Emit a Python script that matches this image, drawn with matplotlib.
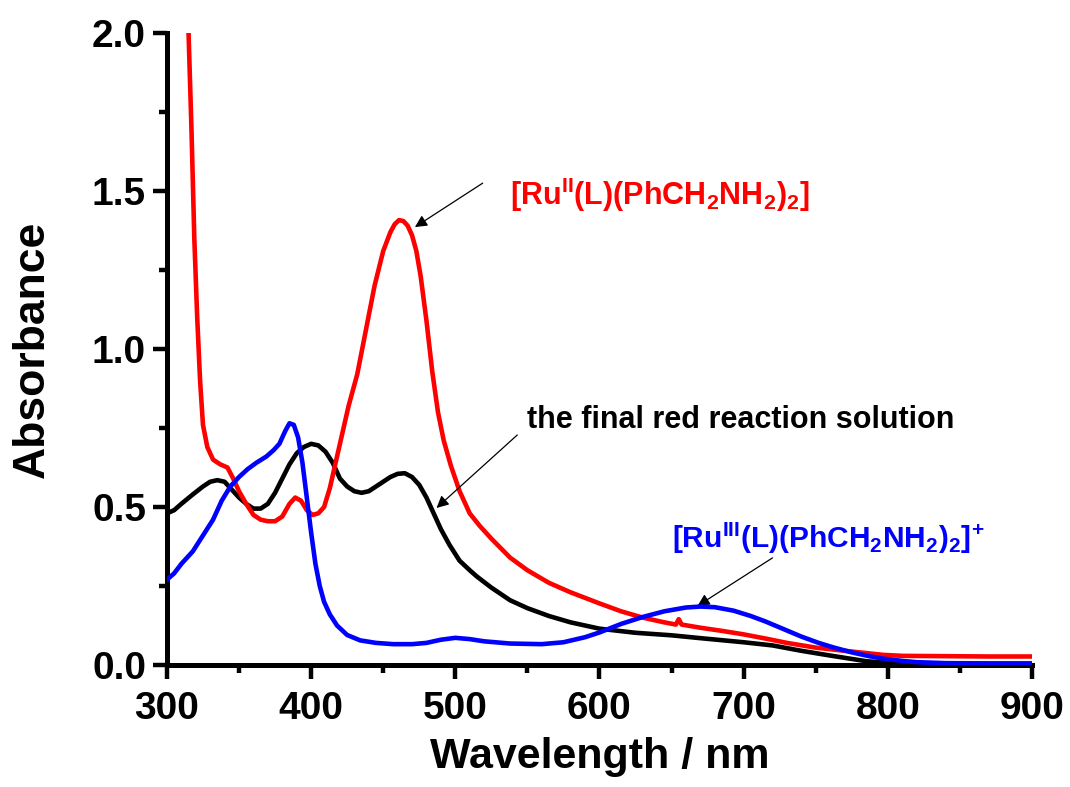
import matplotlib
matplotlib.use("Agg")
import matplotlib.pyplot as plt

plt.rcParams['font.family'] = ['Liberation Sans', 'DejaVu Sans']
plt.rcParams['font.weight'] = 'bold'
plt.rcParams['mathtext.fontset'] = 'custom'
plt.rcParams['mathtext.rm'] = 'Liberation Sans:bold'
plt.rcParams['mathtext.bf'] = 'Liberation Sans:bold'
plt.rcParams['mathtext.it'] = 'Liberation Sans:bold'

# ---- data ----
red_wl = [315, 317, 319, 321, 323, 325, 328, 332, 337, 342, 346, 350, 355, 360, 365, 370, 375,
          380, 385, 389, 393, 397, 401, 405, 409, 413, 418, 422, 426, 432, 438, 444, 450, 455,
          458, 461, 464, 467, 470, 473, 476, 480, 484, 488, 492, 497, 503, 510, 517, 525, 538,
          550, 565, 580, 600, 615, 630, 645, 653, 655, 657, 670, 685, 700, 716, 730, 750, 770,
          797, 810, 840, 870, 900]
red_abs = [2.00, 1.70, 1.35, 1.10, 0.90, 0.76, 0.69, 0.65, 0.635, 0.625, 0.59, 0.55, 0.51, 0.475,
           0.46, 0.455, 0.455, 0.47, 0.51, 0.53, 0.52, 0.49, 0.475, 0.48, 0.50, 0.56, 0.66, 0.74,
           0.82, 0.92, 1.06, 1.20, 1.31, 1.37, 1.395, 1.408, 1.405, 1.39, 1.36, 1.31, 1.23, 1.09,
           0.93, 0.80, 0.71, 0.63, 0.55, 0.48, 0.44, 0.40, 0.34, 0.30, 0.26, 0.23, 0.195, 0.17,
           0.15, 0.135, 0.128, 0.145, 0.128, 0.118, 0.108, 0.097, 0.083, 0.070, 0.055, 0.045,
           0.032, 0.029, 0.028, 0.027, 0.027]

black_wl = [300, 305, 310, 318, 325, 330, 335, 340, 345, 350, 355, 360, 365, 370, 375, 380, 385,
            390, 395, 400, 405, 410, 415, 420, 425, 430, 435, 440, 445, 450, 455, 460, 465, 470,
            475, 480, 485, 490, 496, 503, 510, 515, 525, 538, 550, 565, 580, 600, 625, 650, 670,
            700, 720, 740, 760, 785, 800, 850, 900]
black_abs = [0.48, 0.49, 0.51, 0.54, 0.565, 0.58, 0.585, 0.58, 0.555, 0.53, 0.51, 0.495, 0.495,
             0.51, 0.545, 0.59, 0.635, 0.67, 0.69, 0.70, 0.695, 0.675, 0.64, 0.59, 0.565, 0.55,
             0.545, 0.55, 0.565, 0.58, 0.595, 0.605, 0.607, 0.595, 0.57, 0.53, 0.48, 0.43, 0.38,
             0.33, 0.30, 0.28, 0.245, 0.205, 0.18, 0.155, 0.135, 0.115, 0.102, 0.094, 0.085,
             0.072, 0.062, 0.045, 0.03, 0.012, 0.007, 0.004, 0.004]

blue_wl = [300, 305, 310, 318, 325, 332, 338, 344, 350, 356, 362, 369, 374, 378, 382, 385, 388,
           391, 394, 397, 400, 403, 406, 409, 413, 418, 425, 434, 445, 457, 470, 480, 490, 500,
           510, 520, 538, 560, 575, 590, 600, 615, 630, 645, 660, 670, 680, 693, 705, 715, 727,
           740, 752, 762, 775, 787, 797, 810, 820, 840, 870, 900]
blue_abs = [0.27, 0.29, 0.32, 0.36, 0.41, 0.46, 0.52, 0.565, 0.595, 0.62, 0.64, 0.66, 0.68, 0.70,
            0.74, 0.765, 0.76, 0.72, 0.64, 0.53, 0.42, 0.32, 0.25, 0.20, 0.16, 0.125, 0.095,
            0.078, 0.07, 0.066, 0.066, 0.07, 0.08, 0.086, 0.082, 0.075, 0.068, 0.066, 0.072,
            0.088, 0.103, 0.13, 0.152, 0.17, 0.182, 0.185, 0.183, 0.172, 0.155, 0.138, 0.115,
            0.09, 0.07, 0.056, 0.04, 0.028, 0.02, 0.013, 0.009, 0.006, 0.005, 0.005]

x_ticks = [300, 400, 500, 600, 700, 800, 900]
y_ticks = [0.0, 0.5, 1.0, 1.5, 2.0]

label_red = r'[Ru$^{\mathrm{II}}$(L)(PhCH$_{\mathrm{2}}$NH$_{\mathrm{2}}$)$_{\mathrm{2}}$]'
label_black = 'the final red reaction solution'
label_blue = r'[Ru$^{\mathrm{III}}$(L)(PhCH$_{\mathrm{2}}$NH$_{\mathrm{2}}$)$_{\mathrm{2}}$]$^{+}$'

# ---- figure ----
fig = plt.figure(figsize=(10.70, 7.87), dpi=100)
ax = fig.add_axes([0.156, 0.155, 0.8085, 0.803])

ax.plot(black_wl, black_abs, color='black', lw=3.3, zorder=3)
ax.plot(red_wl, red_abs, color='#ff0000', lw=3.3, zorder=3)
ax.plot(blue_wl, blue_abs, color='#0000ff', lw=3.3, zorder=4)

ax.set_xlim(300, 900)
ax.set_ylim(0, 2.0)
ax.set_xticks(x_ticks)
ax.set_yticks(y_ticks)
ax.set_xticks([350, 450, 550, 650, 750, 850], minor=True)
ax.set_yticks([0.25, 0.75, 1.25, 1.75], minor=True)
ax.set_yticklabels([f'{v:.1f}' for v in y_ticks])

for s in ['top', 'right']:
    ax.spines[s].set_visible(False)
for s in ['left', 'bottom']:
    ax.spines[s].set_linewidth(3.6)

ax.tick_params(which='major', direction='out', length=10, width=3.2, labelsize=28, pad=5)
ax.tick_params(axis='x', which='major', pad=9)
ax.tick_params(which='minor', direction='out', length=6, width=3.2)

ax.set_xlabel('Wavelength / nm', fontsize=31, fontweight='bold', labelpad=7)
ax.set_ylabel('Absorbance', fontsize=32, fontweight='bold', labelpad=28)

arrow = dict(arrowstyle='-|>', color='black', lw=0.9, mutation_scale=18, shrinkA=0, shrinkB=0)

ax.annotate('', xy=(472, 1.386), xytext=(519, 1.525), arrowprops=arrow)
ax.text(538, 1.456, label_red, color='#ff0000', fontsize=22, fontweight='bold', va='baseline', ha='left')

ax.annotate('', xy=(487, 0.497), xytext=(543, 0.728), arrowprops=arrow)
ax.text(549.5, 0.75, label_black, color='black', fontsize=22, fontweight='bold', va='baseline', ha='left')

ax.annotate('', xy=(668, 0.187), xytext=(720, 0.339), arrowprops=arrow)
ax.text(650, 0.370, label_blue, color='#0000ff', fontsize=21.5, fontweight='bold', va='baseline', ha='left')

fig.savefig('out.png', dpi=100)
